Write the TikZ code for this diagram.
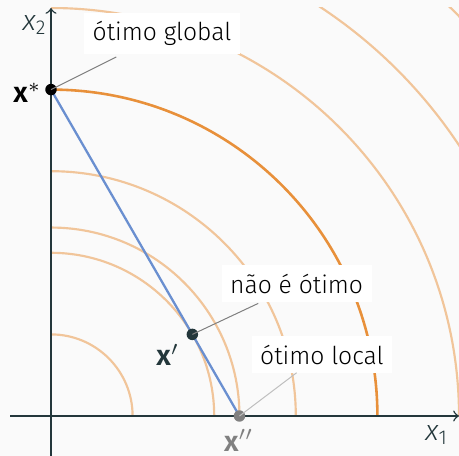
\documentclass[tikz,border=0pt]{standalone}
\usepackage{fontspec}
\setmainfont[UprightFont={* Light}, BoldFont={* SemiBold}, ItalicFont={* Light Italic}]{Fira Sans}
\definecolor{slate}{HTML}{23373B}
\definecolor{brown}{HTML}{E8903A}
\definecolor{steel}{HTML}{6A8FD0}
\definecolor{bg}{HTML}{FAFAFA}
\begin{document}
\begin{tikzpicture}[line width=0.5pt, every node/.style={font=\fontsize{8.6}{10}\selectfont},
  level/.style={brown!50!bg, line width=0.75pt},
  tag/.style={fill=white, inner sep=3pt},
  mark label/.style={font=\fontsize{10}{12}\selectfont},
  dot/.style={circle, fill, inner sep=0pt, minimum size=4pt}]
  \fill[bg] (-0.625,-0.49) rectangle (5.0,5.098);
  \useasboundingbox (-0.625,-0.49) rectangle (5.0,5.098);
  % level curves
  \begin{scope}
    \clip (0,0) rectangle (5.0,5.0);
    \foreach \r in {1,2,2.3094,3,5,6,7}
      \draw[level] (0,0) circle (\r);
    \draw[brown, line width=0.9pt] (0,0) circle (4);
  \end{scope}
  % axes
  \draw[->, slate] (-0.5,0) -- (5.0,0);
  \draw[->, slate] (0,-0.49) -- (0,5.0);
  \node[slate, mark label] (xone) at (4.73,-0.23) {\textit{x}\textsubscript{1}};
  \node[slate, mark label] (xtwo) at (-0.20,4.79) {\textit{x}\textsubscript{2}};
  % line through the optimum
  \draw[steel, line width=0.8pt] (0,4) -- (2.3094,0);
  % labels
  \node[tag] (lglobal) at (1.36,4.69) {ótimo global};
  \node[tag] (lnot) at (3.01,1.62) {não é ótimo};
  \node[tag] (llocal) at (3.32,0.75) {ótimo local};
  \coordinate (cglobal) at (0.80,4.40);
  \coordinate (cnot) at (2.54,1.38);
  \coordinate (clocal) at (3.01,0.53);
  \node[dot, black] (xstar) at (0,4) {};
  \node[dot, slate] (xprime) at (1.7321,1.0) {};
  \node[dot, gray] (xdprime) at (2.3094,0) {};
  \draw[gray, line width=0.35pt] (xstar.center) -- (cglobal);
  \draw[gray, line width=0.35pt] (xprime.center) -- (cnot);
  \draw[gray!50, line width=0.35pt] (xdprime.center) -- (clocal);
  \node[mark label] (tstar) at (-0.29,3.96) {\textbf{x}$^{*}$};
  \node[slate, mark label] (tprime) at (1.43,0.75) {\textbf{x}$^{\prime}$};
  \node[gray, mark label] (tdprime) at (2.30,-0.30) {\textbf{x}$^{\prime\prime}$};
\end{tikzpicture}
\end{document}
